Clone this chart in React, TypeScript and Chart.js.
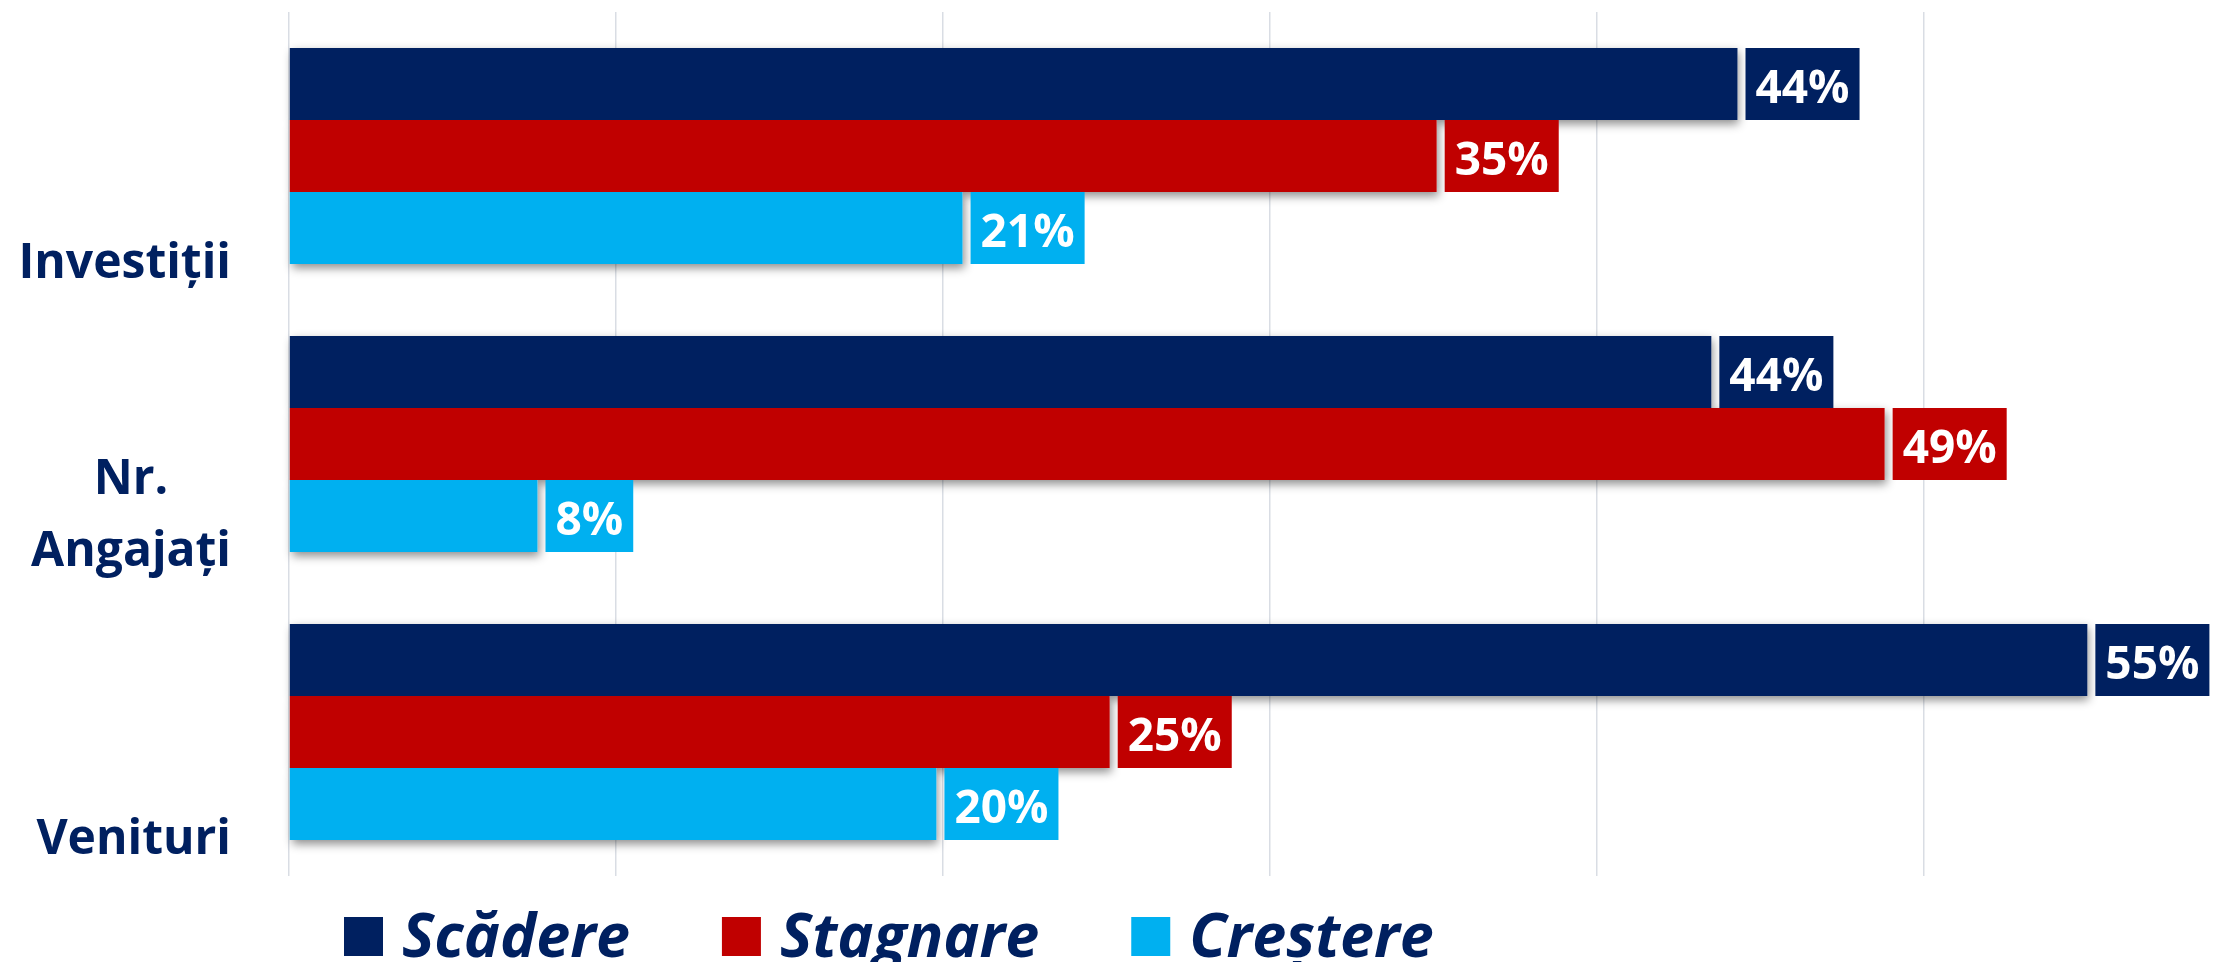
import React, { useEffect, useRef } from "react";
import { Chart, registerables } from "chart.js";
Chart.register(...registerables);

const categories = ["Investiții", "Nr. Angajați", "Venituri"];
const categoryLines = [["Investiții"], ["Nr.", "Angajați"], ["Venituri"]];
const seriesNames = ["Scădere", "Stagnare", "Creștere"];
const seriesColors = ["#002060", "#C00000", "#00B0F0"];
const scadere = [44.3, 43.5, 55.0];
const stagnare = [35.1, 48.8, 25.1];
const crestere = [20.6, 7.6, 19.8];
const gridTicks = [0, 10, 20, 30, 40, 50];

const FONT = '"Open Sans", Lato, sans-serif';
const NAVY = "#002060";

const shadowPlugin = {
  id: "barShadow",
  beforeDatasetsDraw(chart: any) {
    const ctx = chart.ctx;
    ctx.save();
    ctx.shadowColor = "rgba(0,0,0,0.45)";
    ctx.shadowBlur = 9;
    ctx.shadowOffsetX = 2;
    ctx.shadowOffsetY = 4;
    ctx.fillStyle = "#ffffff";
    chart.data.datasets.forEach((_: any, i: number) => {
      const meta = chart.getDatasetMeta(i);
      meta.data.forEach((el: any) => {
        const { x, y, base, height } = el.getProps(["x", "y", "base", "height"], true);
        ctx.fillRect(Math.min(base, x), y - height / 2, Math.abs(x - base), height);
      });
    });
    ctx.restore();
  },
};

const valueLabelPlugin = {
  id: "valueLabels",
  afterDatasetsDraw(chart: any) {
    const ctx = chart.ctx;
    ctx.save();
    ctx.font = `bold 46px ${FONT}`;
    chart.data.datasets.forEach((ds: any, i: number) => {
      const meta = chart.getDatasetMeta(i);
      meta.data.forEach((el: any, j: number) => {
        const text = Math.round(ds.data[j]) + "%";
        const w = ctx.measureText(text).width + 20;
        const left = el.x + 8;
        const top = el.y - el.height / 2;
        ctx.fillStyle = ds.backgroundColor;
        ctx.fillRect(left, top, w, el.height);
        ctx.fillStyle = "#ffffff";
        ctx.textAlign = "center";
        ctx.textBaseline = "alphabetic";
        ctx.fillText(text, left + w / 2, el.y + 19);
      });
    });
    ctx.restore();
  },
};

const categoryLabelPlugin = {
  id: "categoryLabels",
  afterDraw(chart: any) {
    const ctx = chart.ctx;
    const yScale = chart.scales.y;
    const rightEdge = chart.chartArea.left - 58;
    ctx.save();
    ctx.font = `bold 48px ${FONT}`;
    ctx.fillStyle = NAVY;
    ctx.textAlign = "center";
    ctx.textBaseline = "alphabetic";
    categoryLines.forEach((lines, i) => {
      const yPix = yScale.getPixelForValue(i);
      const blockW = Math.max(...lines.map((l) => ctx.measureText(l).width));
      const cx = rightEdge - blockW / 2;
      const n = lines.length;
      lines.forEach((line, k) => {
        ctx.fillText(line, cx, yPix + 122 - (n - 1 - k) * 72);
      });
    });
    ctx.restore();
  },
};

const legendPlugin = {
  id: "customLegend",
  afterDraw(chart: any) {
    const ctx = chart.ctx;
    const area = chart.chartArea;
    ctx.save();
    ctx.font = `italic bold 61px ${FONT}`;
    ctx.textAlign = "left";
    ctx.textBaseline = "alphabetic";
    let x = area.left + 55;
    const boxTop = area.bottom + 41;
    const baseline = area.bottom + 81;
    chart.data.datasets.forEach((ds: any) => {
      ctx.fillStyle = ds.backgroundColor;
      ctx.fillRect(x, boxTop, 39, 39);
      x += 39 + 19;
      ctx.fillStyle = NAVY;
      ctx.fillText(ds.label, x, baseline);
      x += ctx.measureText(ds.label).width + 92;
    });
    ctx.restore();
  },
};

export default function App() {
  const canvasRef = useRef<HTMLCanvasElement | null>(null);

  useEffect(() => {
    if (!canvasRef.current) return;
    const seriesData = [scadere, stagnare, crestere];
    const chart = new Chart(canvasRef.current, {
      type: "bar",
      data: {
        labels: categories,
        datasets: seriesNames.map((name, i) => ({
          label: name,
          data: seriesData[i],
          backgroundColor: seriesColors[i],
          borderWidth: 0,
          categoryPercentage: 0.75,
          barPercentage: 1,
        })),
      },
      options: {
        indexAxis: "y",
        responsive: false,
        animation: false,
        layout: { padding: { top: 4, bottom: 86, left: 0, right: 0 } },
        plugins: {
          legend: { display: false },
          tooltip: { enabled: false },
        },
        scales: {
          x: {
            type: "linear",
            min: 0,
            max: 59.24,
            afterBuildTicks: (s: any) => {
              s.ticks = gridTicks.map((v) => ({ value: v }));
            },
            afterFit: (s: any) => {
              s.height = 0;
            },
            ticks: { display: false },
            grid: { color: "#d9dde4", lineWidth: 1.5, drawTicks: false },
            border: { display: false },
          },
          y: {
            afterFit: (s: any) => {
              s.width = 281;
            },
            ticks: { display: false },
            grid: { display: false, drawTicks: false },
            border: { display: false },
          },
        },
      } as any,
      plugins: [shadowPlugin, valueLabelPlugin, categoryLabelPlugin, legendPlugin],
    });
    return () => chart.destroy();
  }, []);

  return <canvas ref={canvasRef} width={2218} height={954} style={{ display: "block" }} />;
}
